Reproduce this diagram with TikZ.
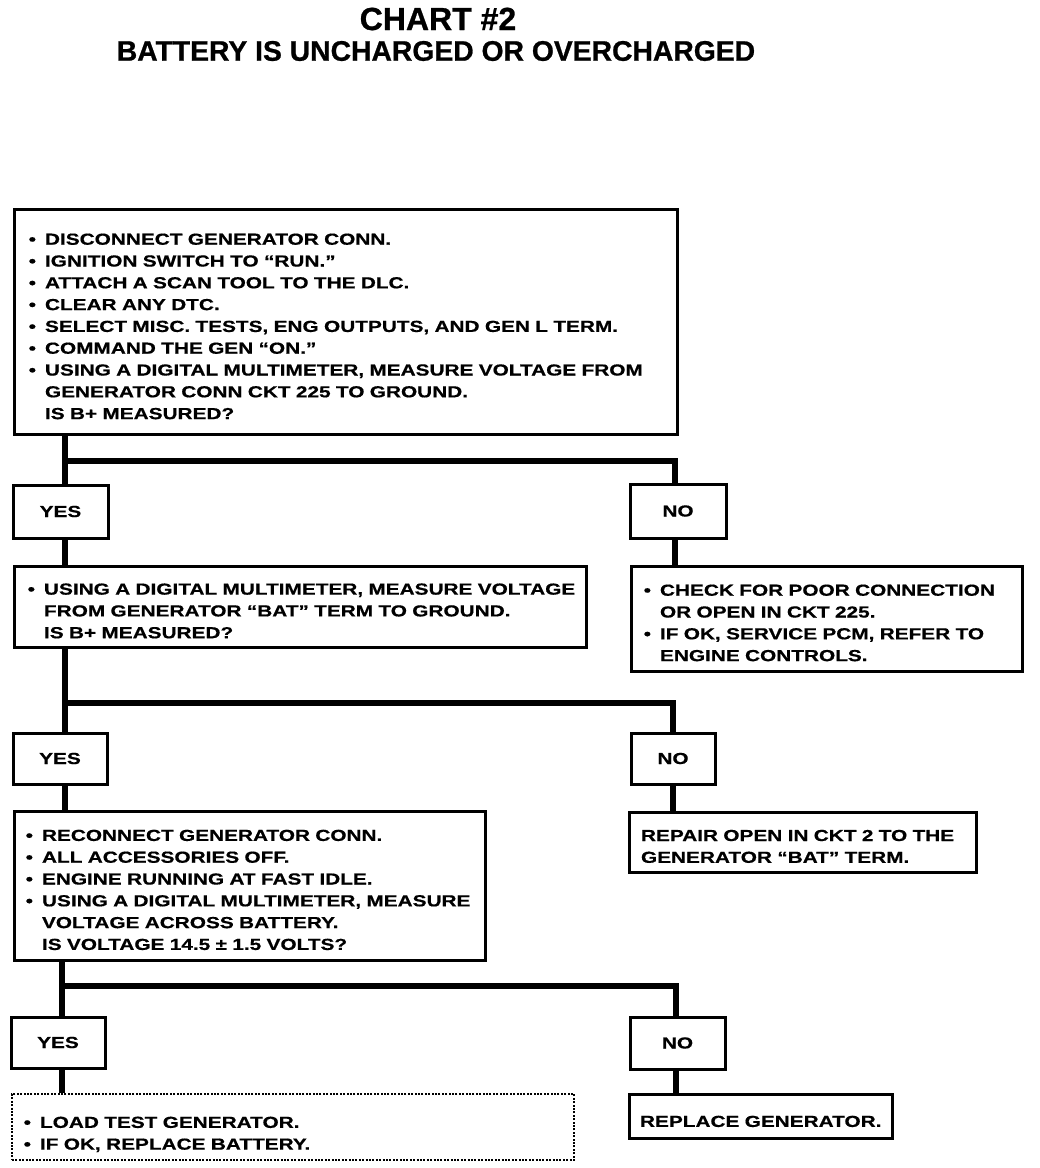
\documentclass[tikz,border=0pt]{standalone}
\usepackage{fontspec}
\newfontfamily\cf{Liberation Sans}[FakeStretch=1.30,FakeBold=0.6]
\newfontfamily\tf{Liberation Sans}[FakeBold=0.8]
\newcommand{\bul}{\leavevmode\llap{•\hspace{9pt}}}
\newcommand{\tb}[1]{\rule{0pt}{#1}}
\tikzset{
  box/.style={draw, line width=3pt, rectangle, align=left, inner ysep=0pt,
    font=\cf\bfseries\fontsize{16}{21.8}\selectfont},
  dotbox/.style={box, line width=1.9pt, dash pattern=on 2pt off 1.4pt},
  ans/.style={draw, line width=3pt, rectangle, inner sep=0pt,
    font=\cf\bfseries\fontsize{16}{18}\selectfont},
  conn/.style={line width=6.5pt, line join=miter, line cap=butt}
}
\begin{document}
\begin{tikzpicture}[x=1pt,y=-1pt]
\fill[white] (0,0) rectangle (1040,1168);
\useasboundingbox (0,0) rectangle (1040,1168);

\node[font=\tf\bfseries\fontsize{32}{32}\selectfont] (title) at (438,19) {CHART \#2};
\node[font=\tf\bfseries\fontsize{28.3}{28.3}\selectfont] (subtitle) at (436,51) {BATTERY IS UNCHARGED OR OVERCHARGED};

% level 1
\node[box, minimum width=663pt, minimum height=225pt, inner xsep=31pt, text width=601pt] (b1) at (345.5,321.5)
{\tb{21pt}\bul DISCONNECT GENERATOR CONN.\\
\bul IGNITION SWITCH TO “RUN.”\\
\bul ATTACH A SCAN TOOL TO THE DLC.\\
\bul CLEAR ANY DTC.\\
\bul SELECT MISC. TESTS, ENG OUTPUTS, AND GEN L TERM.\\
\bul COMMAND THE GEN “ON.”\\
\bul \mbox{USING A DIGITAL MULTIMETER, MEASURE VOLTAGE FROM}\\
GENERATOR CONN CKT 225 TO GROUND.\\
IS B+ MEASURED?};

\node[ans, minimum width=95pt, minimum height=53pt] (yes1) at (60.5,511.5) {YES};
\node[ans, minimum width=96pt, minimum height=54pt] (no1) at (678,511) {NO};

% level 2
\node[box, minimum width=572pt, minimum height=81pt, inner xsep=30pt, text width=512pt] (b2) at (300,606.5)
{\tb{20pt}\bul \mbox{USING A DIGITAL MULTIMETER, MEASURE VOLTAGE}\\
FROM GENERATOR “BAT” TERM TO GROUND.\\
IS B+ MEASURED?};

\node[box, minimum width=391pt, minimum height=105pt, inner xsep=29pt, text width=333pt] (n1) at (826.5,618.5)
{\tb{20pt}\bul \mbox{CHECK FOR POOR CONNECTION}\\
OR OPEN IN CKT 225.\\
\bul \mbox{IF OK, SERVICE PCM, REFER TO}\\
ENGINE CONTROLS.};

\node[ans, minimum width=94pt, minimum height=51pt] (yes2) at (60,758.5) {YES};
\node[ans, minimum width=84pt, minimum height=51pt] (no2) at (673,758.5) {NO};

% level 3
\node[box, minimum width=471pt, minimum height=149pt, inner xsep=28pt, text width=415pt] (b3) at (249.5,885.5)
{\tb{20pt}\bul RECONNECT GENERATOR CONN.\\
\bul ALL ACCESSORIES OFF.\\
\bul ENGINE RUNNING AT FAST IDLE.\\
\bul \mbox{USING A DIGITAL MULTIMETER, MEASURE}\\
VOLTAGE ACROSS BATTERY.\\
IS VOLTAGE 14.5 ± 1.5 VOLTS?};

\node[box, minimum width=347pt, minimum height=60pt, inner xsep=12pt, text width=323pt] (n2) at (802.5,842)
{\tb{20pt}\mbox{REPAIR OPEN IN CKT 2 TO THE}\\
GENERATOR “BAT” TERM.};

\node[ans, minimum width=94pt, minimum height=51pt] (yes3) at (58,1042.5) {YES};
\node[ans, minimum width=95pt, minimum height=52pt] (no3) at (677.5,1043) {NO};

% level 4
\node[dotbox, minimum width=562pt, minimum height=66pt, inner xsep=28pt, text width=506pt] (b4) at (293,1127)
{\tb{26pt}\bul LOAD TEST GENERATOR.\\
\bul IF OK, REPLACE BATTERY.};

\node[box, minimum width=263pt, minimum height=44pt, inner xsep=11pt, text width=241pt] (n3) at (760.5,1116)
{\tb{22pt}\mbox{REPLACE GENERATOR.}};

% junction coordinates
\coordinate (j1L) at (65,461);
\coordinate (j1R) at (675,461);
\coordinate (j2L) at (65,703);
\coordinate (j2R) at (673,703);
\coordinate (j3L) at (62,986);
\coordinate (j3R) at (676,986);

% connectors
\draw[conn] (b1.south -| j1L) -- (yes1.north -| j1L);
\draw[conn] (j1L) -- (j1R) -- (no1.north -| j1R);
\draw[conn] (yes1.south -| j1L) -- (b2.north -| j1L);
\draw[conn] (no1.south -| j1R) -- (n1.north -| j1R);

\draw[conn] (b2.south -| j2L) -- (yes2.north -| j2L);
\draw[conn] (j2L) -- (j2R) -- (no2.north -| j2R);
\draw[conn] (yes2.south -| j2L) -- (b3.north -| j2L);
\draw[conn] (no2.south -| j2R) -- (n2.north -| j2R);

\draw[conn] (b3.south -| j3L) -- (yes3.north -| j3L);
\draw[conn] (j3L) -- (j3R) -- (no3.north -| j3R);
\draw[conn] (yes3.south -| j3L) -- (b4.north -| j3L);
\draw[conn] (no3.south -| j3R) -- (n3.north -| j3R);
\end{tikzpicture}
\end{document}
